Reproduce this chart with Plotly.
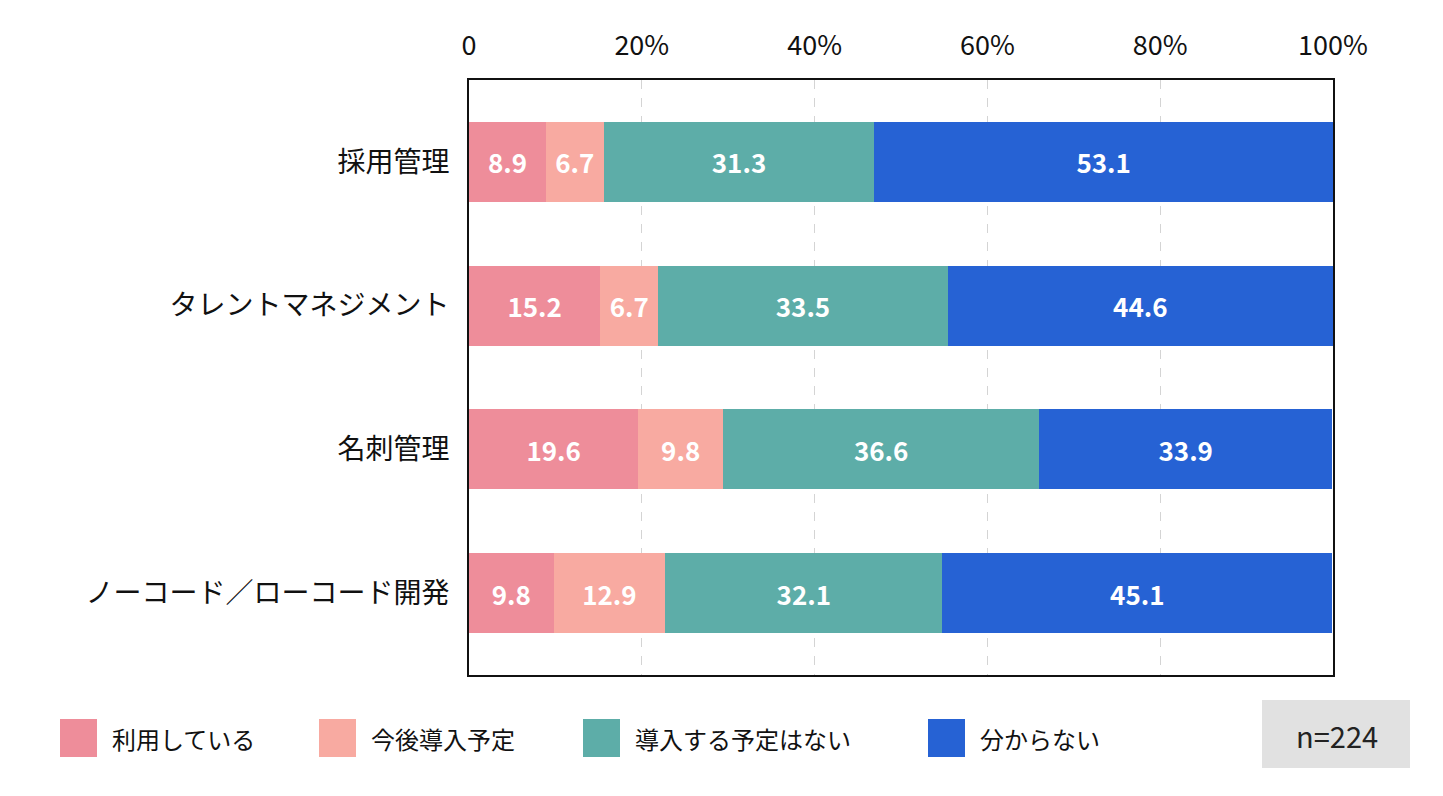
import plotly.graph_objects as go

# ── Data ──────────────────────────────────────────────
CATEGORIES = ["採用管理", "タレントマネジメント", "名刺管理", "ノーコード／ローコード開発"]
SERIES = ["利用している", "今後導入予定", "導入する予定はない", "分からない"]
USING = [8.9, 15.2, 19.6, 9.8]
PLANNED = [6.7, 6.7, 9.8, 12.9]
NO_PLAN = [31.3, 33.5, 36.6, 32.1]
UNKNOWN = [53.1, 44.6, 33.9, 45.1]
TICK_VALS = [0, 20, 40, 60, 80, 100]
TICK_TEXT = ["0", "20%", "40%", "60%", "80%", "100%"]
N_LABEL = "n=224"

COLORS = ["#EE8D9A", "#F8AAA1", "#5DADA8", "#2662D4"]
FONT = "Noto Sans CJK JP"

# page body adds an 8px offset; layout numbers below are in window pixels
OFF = 8
W, H = 1443 - 2 * OFF, 796 - 2 * OFF
PL, PR, PT, PB = 469, 1333, 80, 675  # plot area in window pixels
PW, PH = PR - PL, PB - PT


def px(x):
    return (x - PL) / PW


def py(y):
    return (PB - y) / PH


fig = go.Figure()
for name, vals, col in zip(SERIES, [USING, PLANNED, NO_PLAN, UNKNOWN], COLORS):
    fig.add_trace(go.Bar(
        y=CATEGORIES, x=vals, name=name, orientation="h",
        marker=dict(color=col, line=dict(width=0)),
        width=0.556,
        text=vals, texttemplate="%{x:.1f}",
        textposition="inside", insidetextanchor="middle",
        textfont=dict(color="white", size=26, family=FONT, weight="bold"),
        showlegend=False,
    ))

# ── Legend drawn by hand (tall swatches) ─────────────
legend_x = [60, 319, 583, 928]
shapes = []
annotations = []
for x0, name, col in zip(legend_x, SERIES, COLORS):
    shapes.append(dict(type="rect", xref="paper", yref="paper",
                       x0=px(x0), x1=px(x0 + 37),
                       y0=py(757), y1=py(719),
                       fillcolor=col, line=dict(width=0)))
    annotations.append(dict(xref="paper", yref="paper",
                            x=px(x0 + 50), y=py(738),
                            text=name, showarrow=False, xanchor="left",
                            yanchor="middle",
                            font=dict(size=24, color="#111", family=FONT)))

shapes.append(dict(type="rect", xref="paper", yref="paper",
                   x0=px(1262), x1=px(1410), y0=py(768), y1=py(700),
                   fillcolor="#E1E1E1", line=dict(width=0)))
annotations.append(dict(xref="paper", yref="paper",
                        x=px(1337), y=py(735),
                        text=N_LABEL, showarrow=False,
                        xanchor="center", yanchor="middle",
                        font=dict(size=29, color="#222", family=FONT)))

fig.update_layout(
    barmode="stack",
    width=W, height=H,
    margin=dict(l=PL - OFF, r=W - (PR - OFF), t=PT - OFF, b=H - (PB - OFF)),
    paper_bgcolor="white", plot_bgcolor="white",
    font=dict(family=FONT, color="#111"),
    uniformtext=dict(minsize=24, mode="show"),
    shapes=shapes,
    annotations=annotations,
    xaxis=dict(
        side="top", range=[0, 100],
        tickvals=TICK_VALS, ticktext=TICK_TEXT,
        tickfont=dict(size=27, color="#111"),
        ticks="outside", ticklen=12, tickcolor="rgba(0,0,0,0)",
        showgrid=True, gridcolor="#D4D4D4", griddash="dash", gridwidth=1,
        showline=True, linecolor="#111", linewidth=2, mirror=True,
        zeroline=False, fixedrange=True,
    ),
    yaxis=dict(
        range=[3.57, -0.57],
        tickfont=dict(size=28, color="#111"),
        ticks="outside", ticklen=12, tickcolor="rgba(0,0,0,0)",
        showline=True, linecolor="#111", linewidth=2, mirror=True,
        showgrid=False, fixedrange=True,
    ),
)

fig.write_html("out.html")
